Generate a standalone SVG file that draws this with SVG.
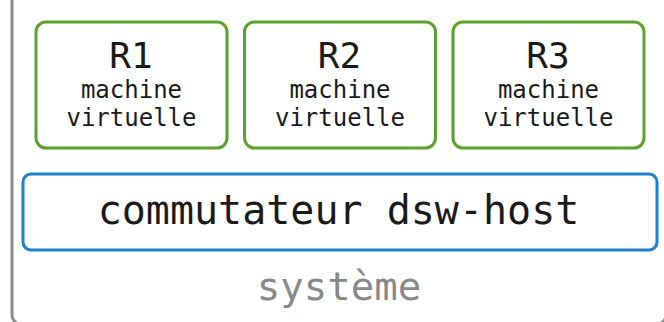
<svg xmlns="http://www.w3.org/2000/svg" width="664" height="322" viewBox="0 0 664 322">
  <style>
    .sys { fill: #ffffff; stroke: #8c8c8c; stroke-width: 3; }
    .vm { fill: #ffffff; stroke: #5ba22a; stroke-width: 3; }
    .sw { fill: #ffffff; stroke: #1b82d1; stroke-width: 3; }
    text { font-family: "DejaVu Sans Mono", "Liberation Mono", monospace; text-anchor: middle; fill: #1a1a1a; }
    .name { font-size: 36px; }
    .kind { font-size: 24px; }
    .swl { font-size: 40px; }
    .sysl { font-size: 39px; fill: #888888; }
  </style>

  <!-- host system frame -->
  <g id="systeme">
    <rect class="sys" x="12" y="-20" width="654" height="344" rx="9"/>
    <text class="sysl" x="339" y="300">système</text>
  </g>

  <!-- virtual machines -->
  <g id="r1">
    <rect class="vm" x="36" y="22" width="191" height="126" rx="10"/>
    <text class="name" x="131" y="68">R1</text>
    <text class="kind" x="131.5" y="98">machine</text>
    <text class="kind" x="131.5" y="126">virtuelle</text>
  </g>
  <g id="r2">
    <rect class="vm" x="244.5" y="22" width="191" height="126" rx="10"/>
    <text class="name" x="339.5" y="68">R2</text>
    <text class="kind" x="340" y="98">machine</text>
    <text class="kind" x="340" y="126">virtuelle</text>
  </g>
  <g id="r3">
    <rect class="vm" x="453" y="22" width="191" height="126" rx="10"/>
    <text class="name" x="548" y="68">R3</text>
    <text class="kind" x="548.5" y="98">machine</text>
    <text class="kind" x="548.5" y="126">virtuelle</text>
  </g>

  <!-- switch -->
  <g id="dsw-host">
    <rect class="sw" x="23" y="174" width="634" height="76" rx="8"/>
    <text class="swl" x="338.5" y="224">commutateur dsw-host</text>
  </g>

  <g id="connectors"></g>
</svg>
